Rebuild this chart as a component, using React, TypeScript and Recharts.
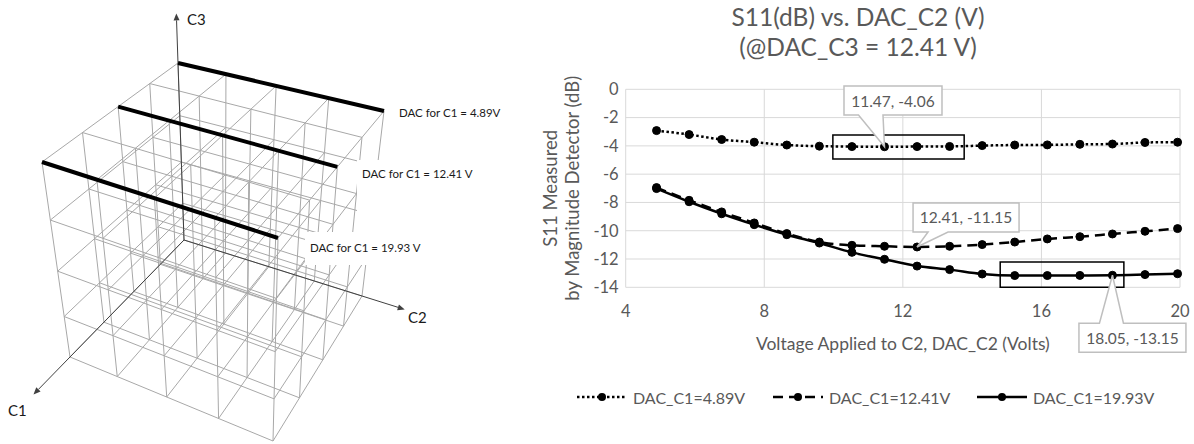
import React from "react";
import {
  LineChart,
  Line,
  XAxis,
  YAxis,
  CartesianGrid,
  ReferenceLine,
  ReferenceArea,
  ReferenceDot,
} from "recharts";

// ---------- S11 chart data ----------
const dacC2 = [
  4.89, 5.83, 6.77, 7.71, 8.65, 9.59, 10.53, 11.47, 12.41, 13.35, 14.29, 15.23,
  16.17, 17.11, 18.05, 18.99, 19.93,
];
const seriesNames = ["DAC_C1=4.89V", "DAC_C1=12.41V", "DAC_C1=19.93V"];
const s11C1Low = [
  -2.92, -3.2, -3.55, -3.74, -3.94, -4.02, -4.05, -4.06, -4.05, -4.04, -3.98,
  -3.94, -3.93, -3.89, -3.87, -3.76, -3.74,
];
const s11C1Mid = [
  -6.95, -7.85, -8.67, -9.45, -10.2, -10.8, -11.03, -11.1, -11.15, -11.1,
  -10.98, -10.8, -10.58, -10.42, -10.23, -10.04, -9.85,
];
const s11C1High = [
  -7.02, -7.95, -8.8, -9.57, -10.28, -10.87, -11.53, -12.02, -12.5, -12.75,
  -13.06, -13.17, -13.17, -13.16, -13.15, -13.1, -13.04,
];
const xTicks = [4, 8, 12, 16, 20];
const yTicks = [-14, -12, -10, -8, -6, -4, -2, 0];

// boxes drawn round the labelled points
const highlightBoxes = [
  { x1: 9.98, x2: 13.77, y1: -4.93, y2: -3.23 },
  { x1: 14.81, x2: 18.38, y1: -14, y2: -12.21 },
];
const calloutPoints = [
  { x: 11.47, y: -4.06 },
  { x: 12.41, y: -11.15 },
  { x: 18.05, y: -13.15 },
];
// callout box placement, pixels relative to the point
const calloutBoxes = [
  { l: -40.5, r: 57.5, t: -60.7, b: -31.7, w1: -26, w2: -1.5, side: "bottom" },
  { l: -4, r: 102, t: -44, b: -15, w1: 11, w2: 31, side: "bottom" },
  { l: -33.5, r: 73.5, t: 48, b: 77, w1: -13, w2: 11, side: "top" },
];

const rows = dacC2.map((v, i) => ({
  v,
  low: s11C1Low[i],
  mid: s11C1Mid[i],
  high: s11C1High[i],
}));

// ---------- cube diagram ----------
const c1Levels = [4.89, 8.65, 12.41, 16.17, 19.93];
const highlightedC1 = [4.89, 12.41, 19.93];
const gridSteps = 4;
// cubeCorners[c1][c2][c3] -> pixel position (c1: 0 back / 1 front, c2: 0 left / 1 right, c3: 0 bottom / 1 top)
const cubeCorners = [
  [
    [[184, 240], [178, 63]],
    [[362, 296], [384, 111]],
  ],
  [
    [[70, 357], [42, 162]],
    [[273, 441], [278, 238]],
  ],
];
const cubeLabels = [
  { text: "DAC for C1 = 4.89V", x: 399, y: 112, box: [-5, 101, -59, 45] },
  { text: "DAC for C1 = 12.41 V", x: 362, y: 173, box: [-5, 113, -13, 61] },
  { text: "DAC for C1 = 19.93 V", x: 310, y: 247, box: [-5, 110, -15, 18] },
];
const axisNames = [
  { text: "C1", x: 8, y: 410 },
  { text: "C2", x: 408, y: 317 },
  { text: "C3", x: 187, y: 19 },
];

const warp = (t: number, q: number) => (t * q) / (1 - t + t * q);

const project = (a: number, b: number, c: number) => {
  const i = warp(a, 0.786);
  const j = warp(b, 0.91);
  const k = warp(c, 0.786);
  let x = 0;
  let y = 0;
  for (let p = 0; p < 2; p++)
    for (let q = 0; q < 2; q++)
      for (let r = 0; r < 2; r++) {
        const w = (p ? i : 1 - i) * (q ? j : 1 - j) * (r ? k : 1 - k);
        x += w * cubeCorners[p][q][r][0];
        y += w * cubeCorners[p][q][r][1];
      }
  return { x, y };
};

const gridSegments: { x: number; y: number }[][] = [];
for (let p = 0; p <= gridSteps; p++)
  for (let q = 0; q <= gridSteps; q++) {
    const u = p / gridSteps;
    const w = q / gridSteps;
    gridSegments.push([project(0, u, w), project(1, u, w)]);
    gridSegments.push([project(u, 0, w), project(u, 1, w)]);
    gridSegments.push([project(u, w, 0), project(u, w, 1)]);
  }

const c1Span = c1Levels[c1Levels.length - 1] - c1Levels[0];
const thickSegments = highlightedC1.map((v) => {
  const t = (v - c1Levels[0]) / c1Span;
  return [project(t, 0, 1), project(t, 1, 1)];
});

const origin = project(0, 0, 0);
const extend = (p: { x: number; y: number }, f: number) => ({
  x: origin.x + (p.x - origin.x) * f,
  y: origin.y + (p.y - origin.y) * f,
});
const axisSegments = [
  [origin, extend(project(1, 0, 0), 1.32)],
  [origin, extend(project(0, 1, 0), 1.24)],
  [origin, extend(project(0, 0, 1), 1.28)],
];
// frame points, only used to give the diagram chart its data
const framePoints = [
  { x: 0, y: 0 },
  { x: 540, y: 444 },
];

const FONT = "Lato, 'Open Sans', sans-serif";
const GREY_TEXT = "#595959";

const ArrowLine = (props: any) => {
  const { x1, y1, x2, y2 } = props;
  const ang = Math.atan2(y2 - y1, x2 - x1);
  const L = 7;
  const W = 3;
  const bx = x2 - L * Math.cos(ang);
  const by = y2 - L * Math.sin(ang);
  const px = -Math.sin(ang) * W;
  const py = Math.cos(ang) * W;
  return (
    <g>
      <line x1={x1} y1={y1} x2={bx} y2={by} stroke="#404040" strokeWidth={1} />
      <polygon
        points={`${x2},${y2} ${bx + px},${by + py} ${bx - px},${by - py}`}
        fill="#404040"
      />
    </g>
  );
};

const CubeLabel = (props: any) => {
  const { cx, cy, text, box } = props;
  return (
    <g>
      <rect
        x={cx + box[0]}
        y={cy + box[2]}
        width={box[1] - box[0]}
        height={box[3] - box[2]}
        fill="#fff"
      />
      <text
        x={cx}
        y={cy}
        dominantBaseline="central"
        fontFamily={FONT}
        fontSize={11.5}
        fill="#1a1a1a"
      >
        {text}
      </text>
    </g>
  );
};

const AxisName = (props: any) => (
  <text
    x={props.cx}
    y={props.cy}
    dominantBaseline="central"
    fontFamily={FONT}
    fontSize={15}
    fill="#1a1a1a"
  >
    {props.text}
  </text>
);

const Callout = (props: any) => {
  const { cx, cy, text, box } = props;
  const L = cx + box.l;
  const R = cx + box.r;
  const T = cy + box.t;
  const B = cy + box.b;
  const w1 = cx + box.w1;
  const w2 = cx + box.w2;
  const d =
    box.side === "bottom"
      ? `M${L},${T} L${R},${T} L${R},${B} L${w2},${B} L${cx},${cy} L${w1},${B} L${L},${B} Z`
      : `M${L},${T} L${w1},${T} L${cx},${cy} L${w2},${T} L${R},${T} L${R},${B} L${L},${B} Z`;
  return (
    <g>
      <path d={d} fill="#fff" stroke="#bfbfbf" strokeWidth={1.5} />
      <text
        x={(L + R) / 2}
        y={(T + B) / 2}
        textAnchor="middle"
        dominantBaseline="central"
        fontFamily={FONT}
        fontSize={15.5}
        fill={GREY_TEXT}
      >
        {text}
      </text>
    </g>
  );
};

const YTitle = (props: any) => {
  const { viewBox } = props;
  const cy = viewBox.y + viewBox.height / 2;
  const lines = ["S11 Measured", "by Magnitude Detector (dB)"];
  const xs = [viewBox.x + 10, viewBox.x + 32];
  return (
    <g>
      {lines.map((s, i) => (
        <text
          key={s}
          x={xs[i]}
          y={cy}
          transform={`rotate(-90 ${xs[i]} ${cy})`}
          textAnchor="middle"
          dominantBaseline="central"
          fontFamily={FONT}
          fontSize={18.5}
          fill={GREY_TEXT}
        >
          {s}
        </text>
      ))}
    </g>
  );
};

const XTitle = (props: any) => {
  const { viewBox } = props;
  return (
    <text
      x={viewBox.x + viewBox.width / 2}
      y={viewBox.y + 55.7}
      textAnchor="middle"
      dominantBaseline="central"
      fontFamily={FONT}
      fontSize={17.5}
      fill={GREY_TEXT}
    >
      Voltage Applied to C2, DAC_C2 (Volts)
    </text>
  );
};

const lineStyles = [
  { key: "low", dash: "2.5 2.5" },
  { key: "mid", dash: "10 6" },
  { key: "high", dash: undefined },
];
const legendLefts = [577, 773, 977];

const App: React.FC = () => {
  return (
    <div
      style={{
        position: "absolute",
        left: 0,
        top: 0,
        width: 1194,
        height: 444,
        background: "#fff",
        fontFamily: FONT,
        overflow: "hidden",
      }}
    >
      {/* 3D grid of the three DAC voltages */}
      <div style={{ position: "absolute", left: 0, top: 0 }}>
        <LineChart
          width={540}
          height={444}
          data={framePoints}
          margin={{ top: 0, right: 0, bottom: 0, left: 0 }}
        >
          <XAxis type="number" dataKey="x" domain={[0, 540]} hide />
          <YAxis type="number" domain={[0, 444]} reversed hide />
          <Line
            dataKey="y"
            stroke="none"
            dot={false}
            activeDot={false}
            isAnimationActive={false}
          />
          {gridSegments.map((s, i) => (
            <ReferenceLine
              key={`g${i}`}
              segment={s}
              stroke="#a8a8a8"
              strokeWidth={1}
              ifOverflow="visible"
            />
          ))}
          {axisSegments.map((s, i) => (
            <ReferenceLine
              key={`a${i}`}
              segment={s}
              ifOverflow="visible"
              shape={(p: any) => <ArrowLine {...p} />}
            />
          ))}
          {thickSegments.map((s, i) => (
            <ReferenceLine
              key={`t${i}`}
              segment={s}
              stroke="#000"
              strokeWidth={4}
              ifOverflow="visible"
            />
          ))}
          {cubeLabels.map((l) => (
            <ReferenceDot
              key={l.text}
              x={l.x}
              y={l.y}
              r={0}
              ifOverflow="visible"
              shape={(p: any) => <CubeLabel {...p} text={l.text} box={l.box} />}
            />
          ))}
          {axisNames.map((l) => (
            <ReferenceDot
              key={l.text}
              x={l.x}
              y={l.y}
              r={0}
              ifOverflow="visible"
              shape={(p: any) => <AxisName {...p} text={l.text} />}
            />
          ))}
        </LineChart>
      </div>

      {/* title */}
      <div
        style={{
          position: "absolute",
          left: 658,
          top: 2,
          width: 400,
          textAlign: "center",
          fontSize: 24.5,
          lineHeight: "30px",
          color: GREY_TEXT,
        }}
      >
        <div>S11(dB) vs. DAC_C2 (V)</div>
        <div>(@DAC_C3 = 12.41 V)</div>
      </div>

      <div style={{ position: "absolute", left: 540, top: 0 }}>
        <LineChart
          width={654}
          height={444}
          data={rows}
          margin={{ top: 89.3, right: 14, bottom: 96.7, left: 0 }}
        >
          <CartesianGrid stroke="#d9d9d9" strokeWidth={1} />
          <XAxis
            type="number"
            dataKey="v"
            domain={[4, 20]}
            ticks={xTicks}
            height={60}
            axisLine={false}
            tickLine={false}
            tickSize={0}
            tickMargin={18}
            tick={{ fill: GREY_TEXT, fontSize: 16.5, fontFamily: FONT }}
            label={(p: any) => <XTitle {...p} />}
          />
          <YAxis
            type="number"
            domain={[-14, 0]}
            ticks={yTicks}
            width={85.7}
            axisLine={false}
            tickLine={false}
            tickSize={0}
            tickMargin={7}
            tick={{ fill: GREY_TEXT, fontSize: 16.5, fontFamily: FONT }}
            label={(p: any) => <YTitle {...p} />}
          />
          {highlightBoxes.map((b, i) => (
            <ReferenceArea
              key={`hb${i}`}
              x1={b.x1}
              x2={b.x2}
              y1={b.y1}
              y2={b.y2}
              fill="none"
              stroke="#000"
              strokeWidth={1.5}
              ifOverflow="visible"
            />
          ))}
          {lineStyles.map((s) => (
            <Line
              key={s.key}
              type="monotone"
              dataKey={s.key}
              stroke="#000"
              strokeWidth={2.5}
              strokeDasharray={s.dash}
              dot={{ r: 4, fill: "#000", stroke: "#000", strokeWidth: 1, strokeDasharray: "none" }}
              isAnimationActive={false}
            />
          ))}
          {calloutPoints.map((c, i) => (
            <ReferenceDot
              key={`c${i}`}
              x={c.x}
              y={c.y}
              r={0}
              ifOverflow="visible"
              shape={(p: any) => (
                <Callout {...p} text={`${c.x}, ${c.y}`} box={calloutBoxes[i]} />
              )}
            />
          ))}
        </LineChart>
      </div>

      {/* legend */}
      {seriesNames.map((name, i) => (
        <div
          key={name}
          style={{
            position: "absolute",
            left: legendLefts[i],
            top: 387,
            height: 20,
            display: "flex",
            alignItems: "center",
            color: GREY_TEXT,
            fontSize: 16,
            whiteSpace: "nowrap",
          }}
        >
          <svg width={50} height={14} style={{ marginRight: 6 }}>
            <line
              x1={0}
              y1={7}
              x2={50}
              y2={7}
              stroke="#000"
              strokeWidth={2.5}
              strokeDasharray={lineStyles[i].dash}
            />
            <circle cx={25} cy={7} r={4} fill="#000" />
          </svg>
          {name}
        </div>
      ))}
    </div>
  );
};

export default App;
